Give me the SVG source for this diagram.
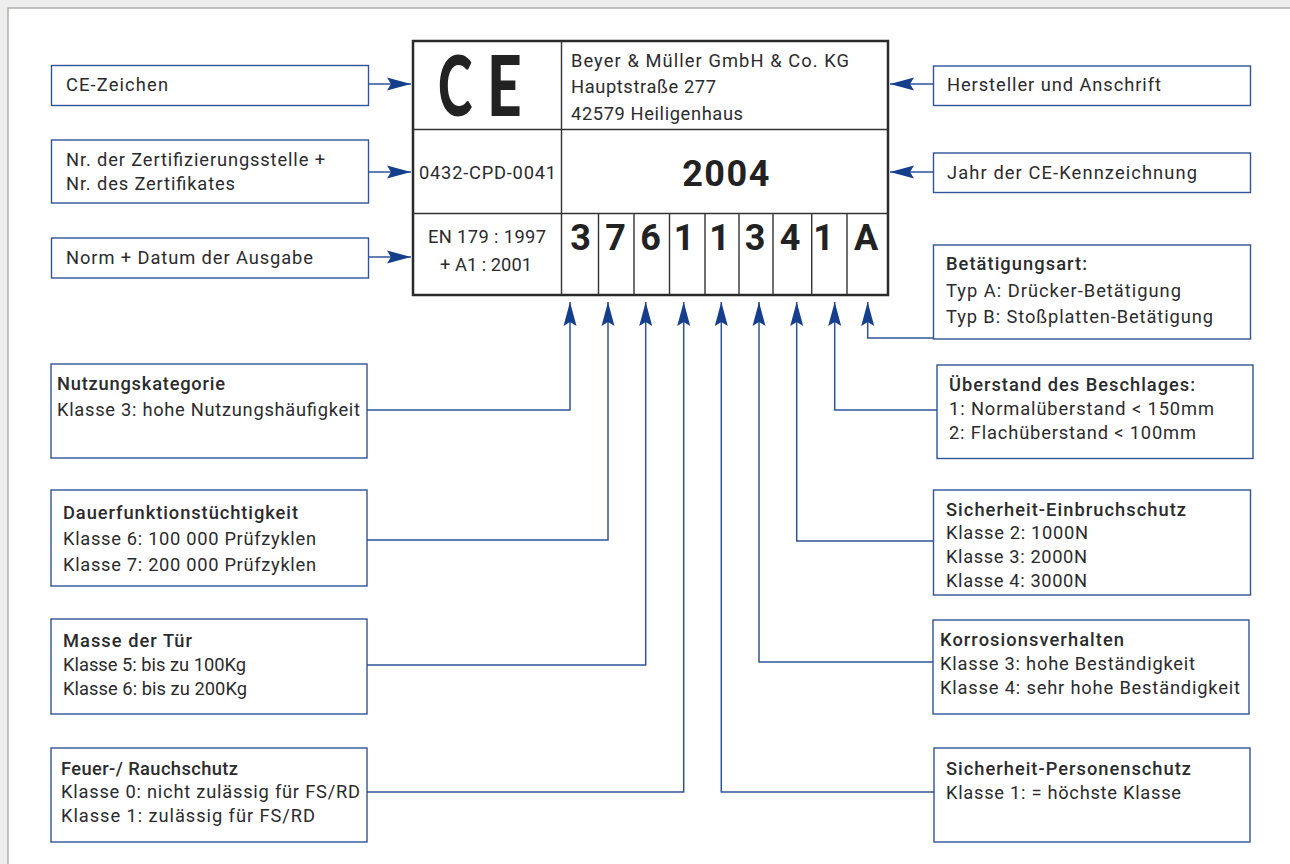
<svg xmlns="http://www.w3.org/2000/svg" width="1290" height="864" viewBox="0 0 1290 864">
<defs>
<marker id="ah" markerUnits="userSpaceOnUse" markerWidth="24" markerHeight="16" refX="24" refY="8" orient="auto"><path d="M0 1.500L24 8L0 14.500L4 8Z" fill="#153e8c"/></marker>
</defs>
<style>
text{font-family:Roboto,"Liberation Sans",sans-serif;font-size:18.3px;fill:#2b2b2d}
.b{font-weight:500}
.big{font-weight:700;font-size:36px;fill:#222}
.c{text-anchor:middle}
.mark{font-family:Lato,Roboto,sans-serif;font-size:84px;font-weight:900;fill:#222}
.box{fill:#fff;stroke:#2f5499;stroke-width:1.4}
.ln{fill:none;stroke:#2f5499;stroke-width:1.5}
.g{stroke:#333;stroke-width:1.4;fill:none}
</style>
<rect width="1290" height="864" fill="#eeeded"/>
<rect x="8" y="8" width="1290" height="870" fill="#fff" stroke="#8d8a86" stroke-width="1"/>
<g id="connectors">
<path class="ln" d="M368 84H411" marker-end="url(#ah)"/>
<path class="ln" d="M368 172H411" marker-end="url(#ah)"/>
<path class="ln" d="M368 257H411" marker-end="url(#ah)"/>
<path class="ln" d="M933 84H890" marker-end="url(#ah)"/>
<path class="ln" d="M933 172H890" marker-end="url(#ah)"/>
<path class="ln" d="M367 410H570V302" marker-end="url(#ah)"/>
<path class="ln" d="M367 540H608V302" marker-end="url(#ah)"/>
<path class="ln" d="M367 665H645.700V302" marker-end="url(#ah)"/>
<path class="ln" d="M367 792H683.700V302" marker-end="url(#ah)"/>
<path class="ln" d="M934 792H721.300V302" marker-end="url(#ah)"/>
<path class="ln" d="M933 662H759V302" marker-end="url(#ah)"/>
<path class="ln" d="M933 541H796.700V302" marker-end="url(#ah)"/>
<path class="ln" d="M937 410H834.700V302" marker-end="url(#ah)"/>
<path class="ln" d="M933 338H867.700V302" marker-end="url(#ah)"/>
</g>
<g id="label">
<rect x="413" y="41" width="475" height="254" fill="#fff" stroke="#2a2a2a" stroke-width="2.500"/>
<path class="g" d="M413 129.500H888M413 213.500H888M561.500 41V295M598.500 213.500V295M634 213.500V295M669.500 213.500V295M705 213.500V295M739 213.500V295M773 213.500V295M811.700 213.500V295M847 213.500V295"/>
<text class="mark" transform="translate(438 116) scale(.62 1)">C</text>
<text class="mark" transform="translate(487 116) scale(.72 1)">E</text>
<text x="571" y="67" textLength="278">Beyer &amp; Müller GmbH &amp; Co. KG</text>
<text x="571" y="93" textLength="145">Hauptstraße 277</text>
<text x="571" y="120" textLength="172">42579 Heiligenhaus</text>
<text x="419" y="179" textLength="137">0432-CPD-0041</text>
<text x="428" y="243" textLength="118">EN 179 : 1997</text>
<text x="440" y="271" textLength="92">+ A1 : 2001</text>
<text x="726.500" y="186" class="c" style="font-weight:700;font-size:36px;fill:#222;letter-spacing:1.500px">2004</text>
<text class="big c" x="580.500" y="250">3</text>
<text class="big c" x="615.500" y="250">7</text>
<text class="big c" x="650.500" y="250">6</text>
<text class="big c" x="684" y="250">1</text>
<text class="big c" x="719.500" y="250">1</text>
<text class="big c" x="755" y="250">3</text>
<text class="big c" x="790" y="250">4</text>
<text class="big c" x="823.500" y="250">1</text>
<text class="big c" x="866" y="250">A</text>
</g>
<g id="n-ce"><rect class="box" x="51.500" y="65.500" width="317" height="40"/><text x="66" y="91" textLength="102">CE-Zeichen</text></g>
<g id="n-zert"><rect class="box" x="51.500" y="140" width="317" height="63"/><text x="66" y="166" textLength="259">Nr. der Zertifizierungsstelle +</text><text x="66" y="190" textLength="169">Nr. des Zertifikates</text></g>
<g id="n-norm"><rect class="box" x="51.500" y="238" width="317" height="40"/><text x="66" y="264" textLength="247">Norm + Datum der Ausgabe</text></g>
<g id="n-herst"><rect class="box" x="933.500" y="66" width="317" height="39.500"/><text x="947" y="91" textLength="214">Hersteller und Anschrift</text></g>
<g id="n-jahr"><rect class="box" x="933.500" y="153" width="317" height="39.500"/><text x="947" y="179" textLength="250">Jahr der CE-Kennzeichnung</text></g>
<g id="n-bet"><rect class="box" x="933.500" y="245" width="317" height="94"/><text class="b" x="946" y="270" textLength="141">Betätigungsart:</text><text x="946" y="297" textLength="235">Typ A: Drücker-Betätigung</text><text x="946" y="323" textLength="267">Typ B: Stoßplatten-Betätigung</text></g>
<g id="n-ueber"><rect class="box" x="937" y="365" width="316" height="93.500"/><text class="b" x="949" y="391" textLength="246">Überstand des Beschlages:</text><text x="949" y="415" textLength="265">1: Normalüberstand &lt; 150mm</text><text x="949" y="439" textLength="247">2: Flachüberstand &lt; 100mm</text></g>
<g id="n-einb"><rect class="box" x="933.500" y="490" width="317" height="105"/><text class="b" x="946" y="516" textLength="240">Sicherheit-Einbruchschutz</text><text x="946" y="539" textLength="142">Klasse 2: 1000N</text><text x="946" y="563" textLength="141">Klasse 3: 2000N</text><text x="946" y="587" textLength="141">Klasse 4: 3000N</text></g>
<g id="n-korr"><rect class="box" x="933" y="620" width="316" height="94"/><text class="b" x="940" y="646" textLength="184">Korrosionsverhalten</text><text x="940" y="670" textLength="255">Klasse 3: hohe Beständigkeit</text><text x="940" y="694" textLength="300">Klasse 4: sehr hohe Beständigkeit</text></g>
<g id="n-pers"><rect class="box" x="934" y="748" width="316" height="94"/><text class="b" x="946" y="775" textLength="245">Sicherheit-Personenschutz</text><text x="946" y="799" textLength="235">Klasse 1: = höchste Klasse</text></g>
<g id="n-nutz"><rect class="box" x="51" y="364" width="316" height="94"/><text class="b" x="57" y="390" textLength="168">Nutzungskategorie</text><text x="57" y="416" textLength="303">Klasse 3: hohe Nutzungshäufigkeit</text></g>
<g id="n-dauer"><rect class="box" x="51" y="490" width="316" height="96"/><text class="b" x="63" y="519" textLength="235">Dauerfunktionstüchtigkeit</text><text x="63" y="545" textLength="253">Klasse 6: 100 000 Prüfzyklen</text><text x="63" y="571" textLength="253">Klasse 7: 200 000 Prüfzyklen</text></g>
<g id="n-masse"><rect class="box" x="51" y="619" width="316" height="95"/><text class="b" x="63" y="647" textLength="129">Masse der Tür</text><text x="63" y="671" textLength="183">Klasse 5: bis zu 100Kg</text><text x="63" y="695" textLength="184">Klasse 6: bis zu 200Kg</text></g>
<g id="n-feuer"><rect class="box" x="51" y="748" width="316" height="94"/><text class="b" x="61" y="775" textLength="177">Feuer-/ Rauchschutz</text><text x="61" y="798" textLength="299">Klasse 0: nicht zulässig für FS/RD</text><text x="61" y="822" textLength="254">Klasse 1: zulässig für FS/RD</text></g>
</svg>
